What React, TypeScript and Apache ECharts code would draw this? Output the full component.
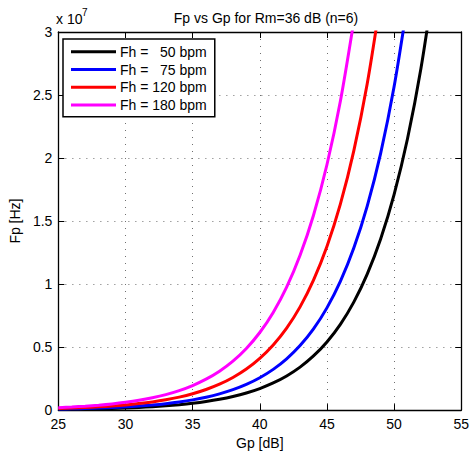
import React, { useEffect, useRef } from "react";
import * as echarts from "echarts";

// Gp [dB] sample positions
const gpValues = [25, 26, 27, 28, 29, 30, 31, 32, 33, 34, 35, 36, 37, 38, 39, 40, 41, 42, 43, 44, 45, 46, 47, 48, 49, 50, 51, 52, 53];

// Fp in units of 1e7 Hz
const fh50 = [0.0054, 0.0068, 0.0086, 0.0108, 0.0136, 0.0171, 0.0215, 0.0271, 0.0341, 0.043, 0.0541, 0.0681, 0.0857, 0.1079, 0.1358, 0.171, 0.2153, 0.271, 0.3412, 0.4295, 0.5407, 0.6807, 0.857, 1.0789, 1.358, 1.71, 2.153, 2.71, 3.412];
const fh75 = [0.0081, 0.0102, 0.0129, 0.0162, 0.0204, 0.0257, 0.0323, 0.0407, 0.0512, 0.0645, 0.0811, 0.1021, 0.1286, 0.1618, 0.2037, 0.2565, 0.323, 0.4065, 0.5118, 0.6443, 0.8111, 1.0211, 1.2855, 1.6184, 2.037, 2.565, 3.23];
const fh120 = [0.013, 0.0163, 0.0206, 0.0259, 0.0326, 0.041, 0.0517, 0.065, 0.0819, 0.1032, 0.1298, 0.1634, 0.2057, 0.259, 0.3259, 0.4104, 0.5167, 0.6504, 0.8189, 1.0308, 1.2977, 1.6337, 2.0568, 2.5894, 3.259];
const fh180 = [0.0194, 0.0245, 0.031, 0.0389, 0.0489, 0.0616, 0.0774, 0.0976, 0.1228, 0.1548, 0.1948, 0.2452, 0.3085, 0.3884, 0.4889, 0.6156, 0.7751, 0.9756, 1.2283, 1.5462, 1.9465, 2.4505, 3.085];

const seriesNames = ["Fh =   50 bpm", "Fh =   75 bpm", "Fh = 120 bpm", "Fh = 180 bpm"];
const seriesColors = ["#000000", "#0000ff", "#ff0000", "#ff00ff"];
const seriesValues = [fh50, fh75, fh120, fh180];

const xTicks = [25, 30, 35, 40, 45, 50, 55];
const yTicks = [0, 0.5, 1, 1.5, 2, 2.5, 3];

const FONT = "'Liberation Sans', Arial, Helvetica, sans-serif";

export default function App() {
  const ref = useRef<HTMLDivElement>(null);

  useEffect(() => {
    if (!ref.current) return;
    document.body.style.margin = "0";
    document.body.style.overflow = "hidden";
    const chart = echarts.init(ref.current, null, { renderer: "svg" });

    const gridLine = { show: true, lineStyle: { color: "#707070", type: [1, 6] as any, width: 1 } };
    const axisLineStyle = { color: "#000", width: 1.3 };
    const tickStyle = { show: true, inside: true, length: 6, lineStyle: { color: "#000", width: 1 } };

    const series = seriesValues.map((vals, i) => ({
      name: seriesNames[i],
      type: "line",
      xAxisIndex: 0,
      yAxisIndex: 0,
      data: vals.map((v, j) => [gpValues[j], v]),
      showSymbol: false,
      symbol: "none",
      smooth: 0.3,
      clip: true,
      lineStyle: { color: seriesColors[i], width: 3 },
      itemStyle: { color: seriesColors[i] },
    }));

    chart.setOption({
      animation: false,
      backgroundColor: "#ffffff",
      textStyle: { fontFamily: FONT },
      title: {
        text: "Fp vs Gp for Rm=36 dB (n=6)",
        left: 261,
        textAlign: "center",
        top: 6,
        textStyle: { fontFamily: FONT, fontSize: 14, fontWeight: "normal", color: "#000" },
      },
      grid: { left: 56, top: 32, width: 410, height: 382, containLabel: false },
      legend: {
        orient: "vertical",
        left: 63,
        top: 39,
        padding: [4, 8, 3, 8],
        itemGap: 0,
        itemWidth: 45,
        itemHeight: 3,
        icon: "rect",
        borderColor: "#000",
        borderWidth: 1.5,
        backgroundColor: "#fff",
        data: seriesNames,
        textStyle: { fontFamily: FONT, fontSize: 14, color: "#000", lineHeight: 17.7, padding: [0, 0, 0, -1] },
      },
      xAxis: [
        {
          type: "value",
          min: xTicks[0],
          max: xTicks[xTicks.length - 1],
          interval: 5,
          position: "bottom",
          name: "Gp [dB]",
          nameLocation: "middle",
          nameGap: 22,
          nameTextStyle: { fontFamily: FONT, fontSize: 14, color: "#000" },
          axisLine: { show: true, onZero: false, lineStyle: axisLineStyle },
          axisTick: tickStyle,
          axisLabel: { fontFamily: FONT, fontSize: 14, color: "#000", margin: 7 },
          splitLine: gridLine,
        },
        {
          type: "value",
          min: xTicks[0],
          max: xTicks[xTicks.length - 1],
          interval: 5,
          position: "top",
          axisLine: { show: true, onZero: false, lineStyle: axisLineStyle },
          axisTick: tickStyle,
          axisLabel: { show: false },
          splitLine: { show: false },
        },
      ],
      yAxis: [
        {
          type: "value",
          min: yTicks[0],
          max: yTicks[yTicks.length - 1],
          interval: 0.5,
          position: "left",
          name: "Fp [Hz]",
          nameLocation: "middle",
          nameGap: 32,
          nameRotate: 90,
          nameTextStyle: { fontFamily: FONT, fontSize: 14, color: "#000" },
          axisLine: { show: true, onZero: false, lineStyle: axisLineStyle },
          axisTick: tickStyle,
          axisLabel: { fontFamily: FONT, fontSize: 14, color: "#000", margin: 6 },
          splitLine: gridLine,
        },
        {
          type: "value",
          min: yTicks[0],
          max: yTicks[yTicks.length - 1],
          interval: 0.5,
          position: "right",
          axisLine: { show: true, onZero: false, lineStyle: axisLineStyle },
          axisTick: tickStyle,
          axisLabel: { show: false },
          splitLine: { show: false },
        },
      ],
      graphic: [
        {
          type: "text",
          left: 56,
          top: 12,
          style: { text: "x 10", font: `14px ${FONT}`, fill: "#000" },
        },
        {
          type: "text",
          left: 82,
          top: 7,
          style: { text: "7", font: `10px ${FONT}`, fill: "#000" },
        },
      ],
      series,
    });

    return () => chart.dispose();
  }, []);

  return (
    <div
      ref={ref}
      style={{ position: "fixed", left: 0, top: 0, width: 472, height: 455 }}
    />
  );
}
